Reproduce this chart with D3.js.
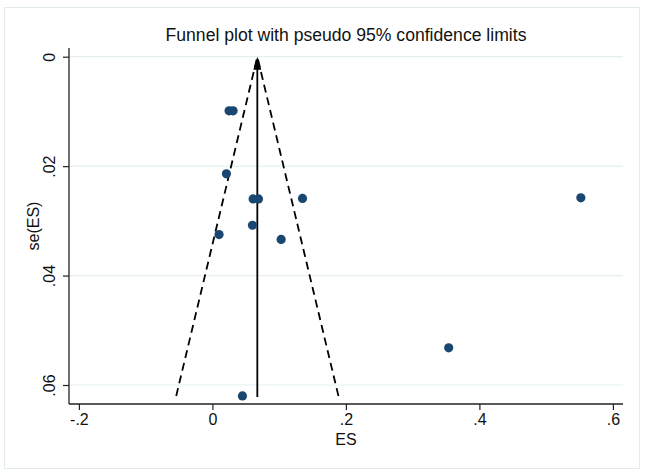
<!DOCTYPE html>
<html>
<head>
<meta charset="utf-8">
<script src="https://cdn.jsdelivr.net/npm/d3@7"></script>
<style>
  body { margin: 0; background: #fff; }
  svg { display: block; font-family: "Liberation Sans", Arial, sans-serif; }
</style>
</head>
<body>
<svg id="chart" width="646" height="475"></svg>
<script>
// study effect sizes and their standard errors
const esValues = [0.025, 0.031, 0.021, 0.061, 0.069, 0.135, 0.060, 0.010, 0.103, 0.045, 0.552, 0.354];
const seValues = [0.0099, 0.0099, 0.0214, 0.0260, 0.0260, 0.0259, 0.0308, 0.0325, 0.0334, 0.0620, 0.0258, 0.0532];
const pooledEs = 0.0673; // fixed effect estimate
const xTicks = [-0.2, 0, 0.2, 0.4, 0.6];
const yTicks = [0, 0.02, 0.04, 0.06];
const titleText = "Funnel plot with pseudo 95% confidence limits";

const svg = d3.select("#chart");

// outer graph region border
svg.append("rect")
    .attr("x", 4.5).attr("y", 7.5)
    .attr("width", 635).attr("height", 461)
    .attr("fill", "#fff").attr("stroke", "#e3eced").attr("stroke-width", 1);

const plot = { left: 69, right: 623, top: 48, bottom: 404 };

const x = d3.scaleLinear().domain([-0.2, 0.6]).range([78.9, 612.9]);
const y = d3.scaleLinear().domain([0, 0.06]).range([56.7, 385]);

// gridlines
svg.append("g").selectAll("line").data(yTicks).join("line")
    .attr("x1", plot.left).attr("x2", plot.right)
    .attr("y1", d => y(d)).attr("y2", d => y(d))
    .attr("stroke", "#e6eff0").attr("stroke-width", 1.2);

// axes, stata style labels: "-.2", ".02"
const fmt = d => d === 0 ? "0" : (d < 0 ? "-" : "") + String(Math.abs(d)).replace(/^0\./, ".");
const xAxis = svg.append("g")
    .attr("transform", `translate(0,${plot.bottom})`)
    .call(d3.axisBottom(x).tickValues(xTicks).tickSize(6).tickPadding(4).tickFormat(fmt));
const yAxis = svg.append("g")
    .attr("transform", `translate(${plot.left},0)`)
    .call(d3.axisLeft(y).tickValues(yTicks).tickSize(6).tickPadding(5).tickFormat(fmt));

[xAxis, yAxis].forEach(a => {
    a.select(".domain").remove();
    a.selectAll(".tick line").attr("stroke", "#222").attr("stroke-width", 1.2);
    a.selectAll(".tick text").attr("fill", "#111").style("font-size", "16px")
        .style("font-family", "'Liberation Sans', Arial, sans-serif");
});
yAxis.selectAll(".tick text")
    .attr("transform", "rotate(-90)")
    .attr("x", 0).attr("dy", 0)
    .attr("y", -14)
    .attr("text-anchor", "middle");

// axis lines
svg.append("line").attr("x1", plot.left).attr("x2", plot.right)
    .attr("y1", plot.bottom).attr("y2", plot.bottom)
    .attr("stroke", "#222").attr("stroke-width", 1.3);
svg.append("line").attr("x1", plot.left).attr("x2", plot.left)
    .attr("y1", plot.top).attr("y2", plot.bottom)
    .attr("stroke", "#222").attr("stroke-width", 1.3);

// axis titles
svg.append("text").attr("x", 346).attr("y", 445)
    .attr("text-anchor", "middle").style("font-size", "16px").attr("fill", "#111").text("ES");
svg.append("text").attr("transform", "translate(39,226) rotate(-90)")
    .attr("text-anchor", "middle").style("font-size", "16px").attr("fill", "#111").text("se(ES)");

// title
svg.append("text").attr("x", 346).attr("y", 41)
    .attr("text-anchor", "middle").style("font-size", "17.6px").attr("fill", "#111").text(titleText);

// pseudo 95% limits
const seMax = d3.max(seValues);
const funnel = [
    [[pooledEs - 1.96 * seMax, seMax], [pooledEs, 0]],
    [[pooledEs + 1.96 * seMax, seMax], [pooledEs, 0]]
];
svg.append("g").selectAll("path").data(funnel).join("path")
    .attr("d", d => d3.line().x(p => x(p[0])).y(p => y(p[1]))(d))
    .attr("fill", "none").attr("stroke", "#000")
    .attr("stroke-width", 1.8).attr("stroke-dasharray", "8,5");

// pooled estimate line with arrow
svg.append("line")
    .attr("x1", x(pooledEs)).attr("x2", x(pooledEs))
    .attr("y1", y(seMax) + 1).attr("y2", y(0) + 10)
    .attr("stroke", "#000").attr("stroke-width", 1.8);
svg.append("path")
    .attr("d", `M${x(pooledEs)},${y(0)} l-4,13 l8,0 Z`)
    .attr("fill", "#000");

// study points
svg.append("g").selectAll("circle").data(esValues).join("circle")
    .attr("cx", d => x(d))
    .attr("cy", (d, i) => y(seValues[i]))
    .attr("r", 4.6)
    .attr("fill", "#1a476f");
</script>
</body>
</html>
